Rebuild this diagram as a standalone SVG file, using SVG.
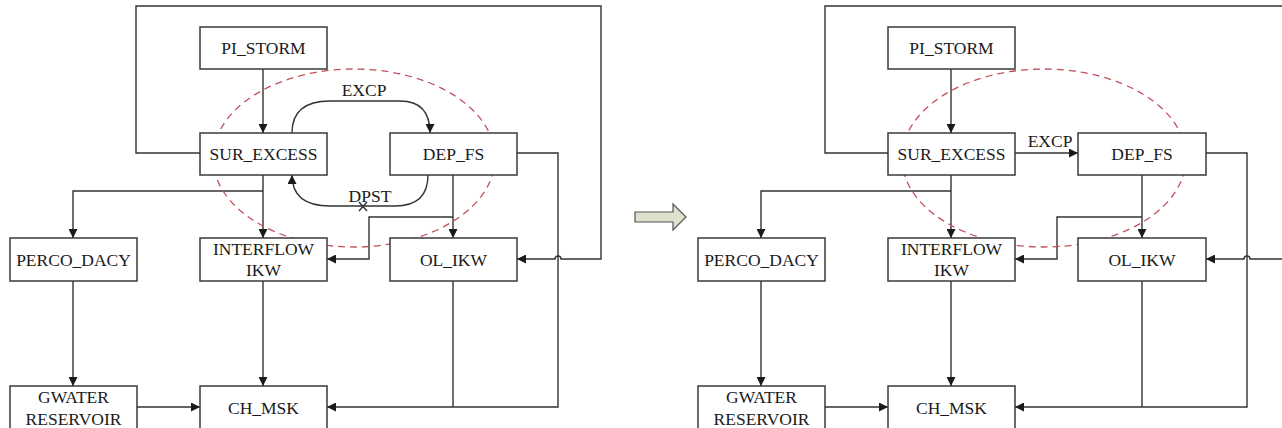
<svg xmlns="http://www.w3.org/2000/svg" width="1282" height="428" viewBox="0 0 1282 428">
<style>
.box{fill:#fff;stroke:#3a3a3a;stroke-width:1.5}
.ln{fill:none;stroke:#333;stroke-width:1.4}
.t{font-family:"Liberation Serif","Times New Roman",serif;font-size:17.5px;fill:#1a1a1a;text-anchor:middle}
.ell{fill:none;stroke:#c0505a;stroke-width:1.3;stroke-dasharray:7 5}
</style>
<defs>
<marker id="ar" viewBox="0 0 10 10" refX="10" refY="5" markerWidth="9" markerHeight="9" markerUnits="userSpaceOnUse" orient="auto">
<path d="M0,0 L10,5 L0,10 z" fill="#1a1a1a"/>
</marker>
</defs>
<rect width="1282" height="428" fill="#fff"/>

<g id="connectors-left">
<path class="ln" d="M200,153 H136 V6 H601 V259 H561 A3,3 0 0 0 555,259 H517" marker-end="url(#ar)"/>
<path class="ln" d="M263,69 V133" marker-end="url(#ar)"/>
<path class="ln" d="M292,133 Q292,101 330,101 L400,101 Q430,101 430,133" marker-end="url(#ar)"/>
<path class="ln" d="M428,175 Q428,206 395,206 L330,206 Q292,206 292,175" marker-end="url(#ar)"/>
<path class="ln" d="M359,202 L367,211 M359,211 L367,202"/>
<path class="ln" d="M263,175 V238" marker-end="url(#ar)"/>
<path class="ln" d="M263,191 H73 V238" marker-end="url(#ar)"/>
<path class="ln" d="M73,281 V386" marker-end="url(#ar)"/>
<path class="ln" d="M263,281 V386" marker-end="url(#ar)"/>
<path class="ln" d="M137,407 H200" marker-end="url(#ar)"/>
<path class="ln" d="M453,175 V238" marker-end="url(#ar)"/>
<path class="ln" d="M453,217 H369 V259 H327" marker-end="url(#ar)"/>
<path class="ln" d="M517,153 H558 V407 H327" marker-end="url(#ar)"/>
<path class="ln" d="M453,281 V407"/>
<text class="t" x="364" y="96">EXCP</text>
<text class="t" x="370" y="202">DPST</text>
</g>
<ellipse class="ell" cx="354" cy="158" rx="141" ry="89"/>

<g id="pi_storm_l"><rect class="box" x="200" y="27" width="127" height="42"/><text class="t" x="263.5" y="54">PI_STORM</text></g>
<g id="sur_excess_l"><rect class="box" x="200" y="133" width="127" height="42"/><text class="t" x="263.5" y="160">SUR_EXCESS</text></g>
<g id="dep_fs_l"><rect class="box" x="390" y="133" width="127" height="42"/><text class="t" x="453.5" y="160">DEP_FS</text></g>
<g id="perco_l"><rect class="box" x="10" y="238" width="127" height="43"/><text class="t" x="73.5" y="266">PERCO_DACY</text></g>
<g id="interflow_l"><rect class="box" x="200" y="238" width="127" height="43"/><text class="t" x="263.5" y="255">INTERFLOW</text><text class="t" x="263.5" y="276">IKW</text></g>
<g id="ol_ikw_l"><rect class="box" x="390" y="238" width="127" height="43"/><text class="t" x="453.5" y="266">OL_IKW</text></g>
<g id="gwater_l"><rect class="box" x="10" y="386" width="127" height="46"/><text class="t" x="73.5" y="403">GWATER</text><text class="t" x="73.5" y="425">RESERVOIR</text></g>
<g id="ch_msk_l"><rect class="box" x="200" y="386" width="127" height="46"/><text class="t" x="263.5" y="414">CH_MSK</text></g>

<g id="transition-arrow">
<path d="M635,212 H673 V204 L686,217 L673,230 V222 H635 Z" fill="#dfe1cf" stroke="#555" stroke-width="1.2"/>
</g>

<g id="connectors-right">
<path class="ln" d="M888,153 H825 V6 H1290"/>
<path class="ln" d="M1282,259 H1250 A3,3 0 0 0 1244,259 H1206" marker-end="url(#ar)"/>
<path class="ln" d="M951,69 V133" marker-end="url(#ar)"/>
<path class="ln" d="M1015,153 H1078" marker-end="url(#ar)"/>
<path class="ln" d="M951,175 V238" marker-end="url(#ar)"/>
<path class="ln" d="M951,191 H761 V238" marker-end="url(#ar)"/>
<path class="ln" d="M761,281 V386" marker-end="url(#ar)"/>
<path class="ln" d="M951,281 V386" marker-end="url(#ar)"/>
<path class="ln" d="M825,407 H888" marker-end="url(#ar)"/>
<path class="ln" d="M1142,175 V238" marker-end="url(#ar)"/>
<path class="ln" d="M1142,217 H1057 V259 H1015" marker-end="url(#ar)"/>
<path class="ln" d="M1206,153 H1247 V407 H1015" marker-end="url(#ar)"/>
<path class="ln" d="M1142,281 V407"/>
<text class="t" x="1050" y="147">EXCP</text>
</g>
<ellipse class="ell" cx="1044" cy="158" rx="142" ry="89"/>

<g id="pi_storm_r"><rect class="box" x="888" y="27" width="127" height="42"/><text class="t" x="951.5" y="54">PI_STORM</text></g>
<g id="sur_excess_r"><rect class="box" x="888" y="133" width="127" height="42"/><text class="t" x="951.5" y="160">SUR_EXCESS</text></g>
<g id="dep_fs_r"><rect class="box" x="1078" y="133" width="128" height="42"/><text class="t" x="1142" y="160">DEP_FS</text></g>
<g id="perco_r"><rect class="box" x="698" y="238" width="127" height="43"/><text class="t" x="761.5" y="266">PERCO_DACY</text></g>
<g id="interflow_r"><rect class="box" x="888" y="238" width="127" height="43"/><text class="t" x="951.5" y="255">INTERFLOW</text><text class="t" x="951.5" y="276">IKW</text></g>
<g id="ol_ikw_r"><rect class="box" x="1078" y="238" width="128" height="43"/><text class="t" x="1142" y="266">OL_IKW</text></g>
<g id="gwater_r"><rect class="box" x="698" y="386" width="127" height="46"/><text class="t" x="761.5" y="403">GWATER</text><text class="t" x="761.5" y="425">RESERVOIR</text></g>
<g id="ch_msk_r"><rect class="box" x="888" y="386" width="127" height="46"/><text class="t" x="951.5" y="414">CH_MSK</text></g>
</svg>
